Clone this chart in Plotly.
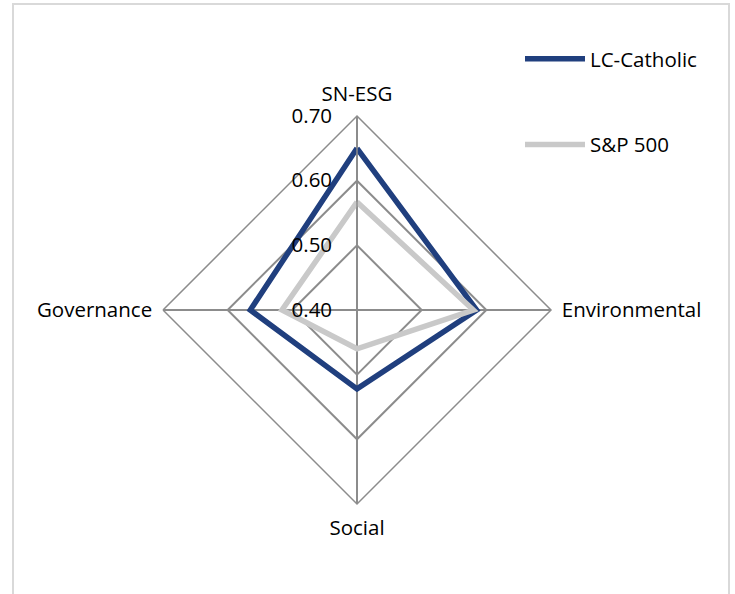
import plotly.graph_objects as go

categories = ["SN-ESG", "Environmental", "Social", "Governance"]
lc_catholic = [0.65, 0.585, 0.522, 0.565]
sp500 = [0.567, 0.58, 0.46, 0.516]
radial_ticks = [0.40, 0.50, 0.60, 0.70]
radial_ticktext = ["0.40", "0.50", "0.60", "0.70"]

W, H = 735, 594
FONT = "Open Sans"
FS = 20.5
GRID = "#8C8C8C"

fig = go.Figure()
fig.add_trace(go.Scatterpolar(
    r=lc_catholic + lc_catholic[:1], theta=categories + categories[:1],
    mode="lines", name="LC-Catholic",
    line=dict(color="#203F7E", width=5.5), legendgroup="a",
))
fig.add_trace(go.Scatterpolar(
    r=sp500 + sp500[:1], theta=categories + categories[:1],
    mode="lines", name="S&P 500",
    line=dict(color="#C9C9C9", width=5.5), legendgroup="b",
))

cx, cy, R = 357, 310, 194
fig.update_layout(
    width=W, height=H,
    margin=dict(l=0, r=0, t=0, b=0),
    paper_bgcolor="white",
    font=dict(family=FONT, size=FS, color="#000000"),
    polar=dict(
        domain=dict(x=[(cx - R) / W, (cx + R) / W], y=[(H - cy - R) / H, (H - cy + R) / H]),
        bgcolor="white",
        gridshape="linear",
        radialaxis=dict(
            range=[0.4, 0.7], tickvals=radial_ticks, ticktext=radial_ticktext,
            angle=90, tickangle=90, side="counterclockwise",
            showline=True, linecolor=GRID, linewidth=1.5,
            gridcolor=GRID, gridwidth=1.5,
            ticks="outside", ticklen=17, tickcolor="rgba(0,0,0,0)",
            tickfont=dict(family=FONT, size=FS, color="#000000"),
        ),
        angularaxis=dict(
            categoryarray=categories, categoryorder="array",
            rotation=90, direction="clockwise",
            showline=True, linecolor=GRID, linewidth=1.5,
            gridcolor=GRID, gridwidth=1.5,
            ticks="outside", ticklen=6, tickcolor="rgba(0,0,0,0)",
            tickfont=dict(family=FONT, size=FS, color="#000000"),
        ),
    ),
    legend=dict(
        x=520 / W, y=1 - 39 / H, xanchor="left", yanchor="top",
        tracegroupgap=56, traceorder="grouped", itemwidth=60,
        font=dict(family=FONT, size=FS), bgcolor="rgba(0,0,0,0)",
    ),
    shapes=[dict(type="rect", xref="paper", yref="paper",
                 x0=13 / W, x1=729 / W, y0=-0.05, y1=1 - 4 / H,
                 line=dict(color="#D9D9D9", width=2), fillcolor="rgba(0,0,0,0)")],
)

fig.write_html("out.html", config={"displayModeBar": False},
               post_script="document.body.style.margin='0';")
